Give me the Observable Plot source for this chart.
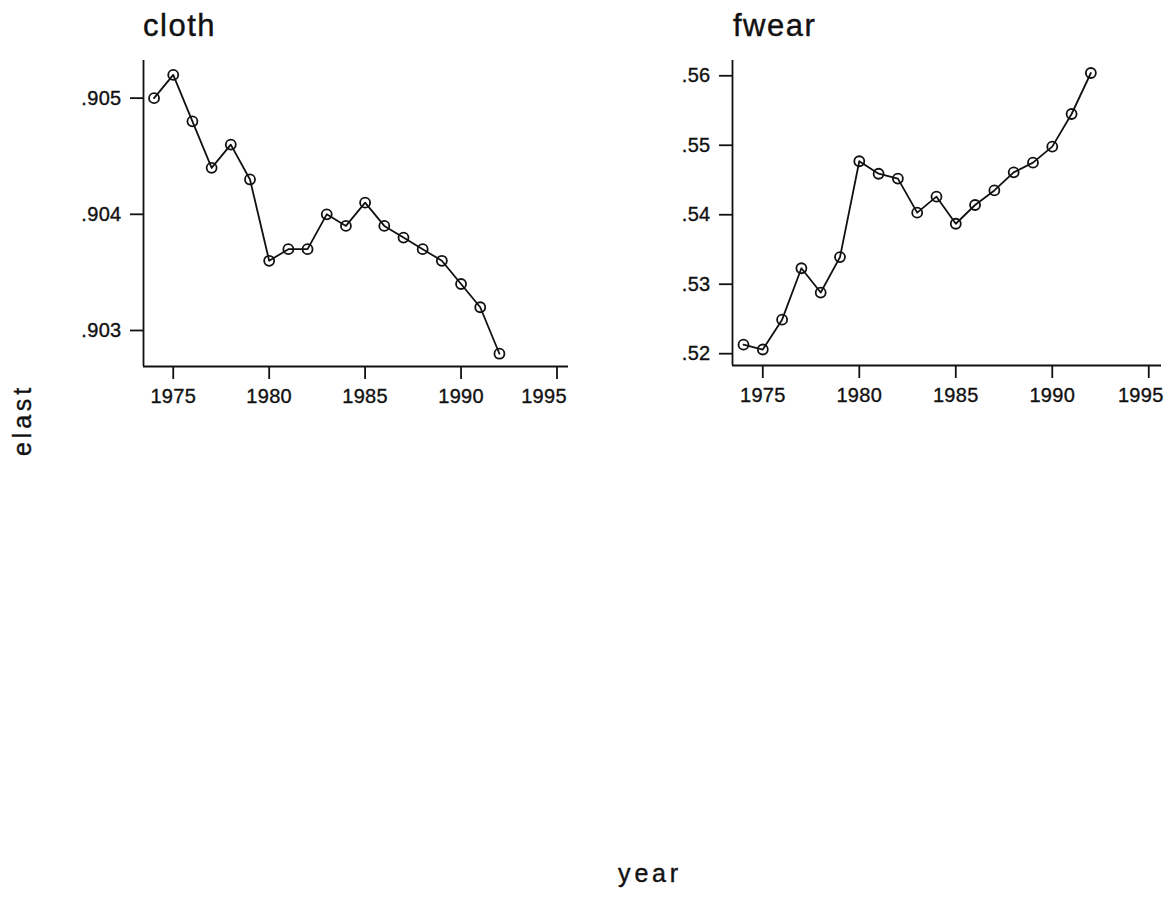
<!DOCTYPE html>
<html>
<head>
<meta charset="utf-8">
<script src="https://cdn.jsdelivr.net/npm/d3@7"></script>
<script src="https://cdn.jsdelivr.net/npm/@observablehq/plot@0.6"></script>
<style>
  html, body { margin: 0; padding: 0; background: #fff; }
  #wrap { position: relative; width: 1164px; height: 897px; overflow: hidden;
          font-family: "Liberation Sans", Arial, sans-serif; color: #111; }
  .panel { position: absolute; top: 0; }
  .panel svg { overflow: visible; }
  .panel svg text { stroke: #111; stroke-width: 0.35px; }
  .txt { position: absolute; white-space: nowrap; line-height: 1; -webkit-text-stroke: 0.4px #111; }
  .title { font-size: 31px; letter-spacing: 1.5px; }
  .axlab { font-size: 25px; letter-spacing: 3.8px; }
</style>
</head>
<body>
<div id="wrap">
  <div class="panel" id="p1" style="left:0px"></div>
  <div class="panel" id="p2" style="left:600px"></div>
  <div class="txt title" style="left:143px; top:10px">cloth</div>
  <div class="txt title" style="left:733px; top:10px">fwear</div>
  <div class="txt axlab" style="left:22px; top:420px; width:0; height:0;">
    <div style="position:absolute; transform: translate(-50%,-50%) rotate(-90deg);">elast</div>
  </div>
  <div class="txt axlab" style="left:650px; top:861px; transform: translateX(-50%);">year</div>
</div>
<script>
// Annual elasticity estimates, 1974-1992
const years = [1974, 1975, 1976, 1977, 1978, 1979, 1980, 1981, 1982, 1983,
               1984, 1985, 1986, 1987, 1988, 1989, 1990, 1991, 1992];
const cloth = [0.9050, 0.9052, 0.9048, 0.9044, 0.9046, 0.9043, 0.9036, 0.9037, 0.9037, 0.9040,
               0.9039, 0.9041, 0.9039, 0.9038, 0.9037, 0.9036, 0.9034, 0.9032, 0.9028];
const fwear = [0.5213, 0.5206, 0.5249, 0.5323, 0.5288, 0.5339, 0.5477, 0.5459, 0.5452, 0.5403,
               0.5426, 0.5387, 0.5414, 0.5435, 0.5461, 0.5475, 0.5498, 0.5545, 0.5604];
const xTicks = [1975, 1980, 1985, 1990];
const xTickLast = [1995];
const clothTicks = [0.903, 0.904, 0.905];
const fwearTicks = [0.52, 0.53, 0.54, 0.55, 0.56];

const fontFamily = '"Liberation Sans", Arial, sans-serif';
const noLeadZero = (fmt) => (d) => d3.format(fmt)(d).replace(/^0/, "");

function panel(values, opts) {
  const data = years.map((year, i) => ({year, elast: values[i]}));
  const [x0, x1] = opts.xDomain;
  const [y0, y1] = opts.yDomain;
  const axisStyle = {tickFormat: d3.format("d"), tickSize: 13, tickPadding: 9, strokeWidth: 1.8, label: null};
  return Plot.plot({
    width: opts.width,
    height: 400,
    marginLeft: opts.marginLeft,
    marginRight: opts.marginRight,
    marginTop: 60,
    marginBottom: opts.marginBottom,
    style: {fontFamily, fontSize: "20px", letterSpacing: "0.3px", color: "#111", background: "white"},
    x: {domain: [x0, x1]},
    y: {domain: [y0, y1]},
    marks: [
      Plot.ruleX([x0], {y1: y0, y2: y1, stroke: "#111", strokeWidth: 1.8}),
      Plot.ruleY([y0], {x1: x0, x2: x1, stroke: "#111", strokeWidth: 1.8}),
      Plot.axisX({...axisStyle, ticks: [...xTicks, ...xTickLast], text: null}),
      Plot.axisX({...axisStyle, ticks: xTicks, tickSize: 0, tickPadding: 22}),
      // the final year label is pulled in to stay inside the frame
      Plot.axisX({...axisStyle, ticks: xTickLast, tickSize: 0, tickPadding: 22, dx: opts.lastShift}),
      Plot.axisY({ticks: opts.yTicks, tickFormat: opts.yFormat, tickSize: 13, tickPadding: 9,
                  strokeWidth: 1.8, label: null}),
      Plot.line(data, {x: "year", y: "elast", stroke: "#111", strokeWidth: 1.8}),
      Plot.dot(data, {x: "year", y: "elast", r: 5, stroke: "#111", strokeWidth: 1.8, fill: "none"})
    ]
  });
}

document.getElementById("p1").append(panel(cloth, {
  width: 580, marginLeft: 143, marginRight: 12, marginBottom: 34,
  xDomain: [1973.45, 1995.6], yDomain: [0.90269, 0.905324],
  yTicks: clothTicks, yFormat: noLeadZero(".3f"), lastShift: -13
}));
document.getElementById("p2").append(panel(fwear, {
  width: 564, marginLeft: 132, marginRight: 3, marginBottom: 35,
  xDomain: [1973.43, 1995.66], yDomain: [0.5183, 0.5622],
  yTicks: fwearTicks, yFormat: noLeadZero(".2f"), lastShift: -8
}));
</script>
</body>
</html>
